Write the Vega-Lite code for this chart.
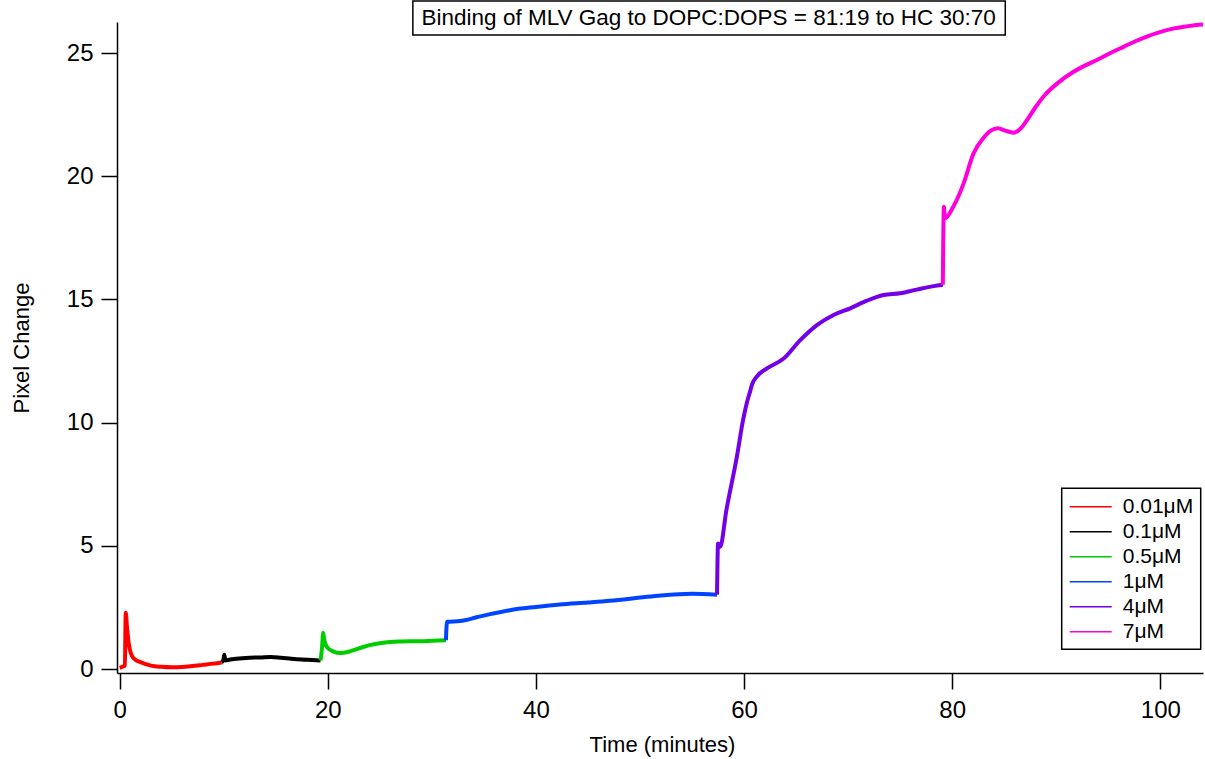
{
  "$schema": "https://vega.github.io/schema/vega-lite/v6.json",
  "width": 1086,
  "height": 651,
  "autosize": {"type": "none"},
  "padding": {"left": 117, "top": 22, "right": 2, "bottom": 86},
  "background": "white",
  "config": {
    "view": {"stroke": null},
    "font": "Liberation Sans",
    "legend": {"strokeWidth": 1.5}
  },
  "layer": [
    {
      "data": {
        "values": [
          {"t": 0, "v": 0.05, "c": "0.01μM"},
          {"t": 0.3, "v": 0.1, "c": "0.01μM"},
          {"t": 0.5, "v": 0.15, "c": "0.01μM"},
          {"t": 0.58, "v": 2.29, "c": "0.01μM"},
          {"t": 0.7, "v": 1.7, "c": "0.01μM"},
          {"t": 0.85, "v": 1.1, "c": "0.01μM"},
          {"t": 1.0, "v": 0.75, "c": "0.01μM"},
          {"t": 1.2, "v": 0.52, "c": "0.01μM"},
          {"t": 1.5, "v": 0.38, "c": "0.01μM"},
          {"t": 2.0, "v": 0.28, "c": "0.01μM"},
          {"t": 2.5, "v": 0.2, "c": "0.01μM"},
          {"t": 3.0, "v": 0.14, "c": "0.01μM"},
          {"t": 4.0, "v": 0.09, "c": "0.01μM"},
          {"t": 5.0, "v": 0.07, "c": "0.01μM"},
          {"t": 6.0, "v": 0.08, "c": "0.01μM"},
          {"t": 7.0, "v": 0.12, "c": "0.01μM"},
          {"t": 8.0, "v": 0.17, "c": "0.01μM"},
          {"t": 9.0, "v": 0.22, "c": "0.01μM"},
          {"t": 9.8, "v": 0.27, "c": "0.01μM"},
          {"t": 9.8, "v": 0.28, "c": "0.1μM"},
          {"t": 9.95, "v": 0.35, "c": "0.1μM"},
          {"t": 10.05, "v": 0.58, "c": "0.1μM"},
          {"t": 10.15, "v": 0.35, "c": "0.1μM"},
          {"t": 10.5, "v": 0.38, "c": "0.1μM"},
          {"t": 11.2, "v": 0.42, "c": "0.1μM"},
          {"t": 12.5, "v": 0.46, "c": "0.1μM"},
          {"t": 13.5, "v": 0.47, "c": "0.1μM"},
          {"t": 14.5, "v": 0.49, "c": "0.1μM"},
          {"t": 15.5, "v": 0.46, "c": "0.1μM"},
          {"t": 16.5, "v": 0.42, "c": "0.1μM"},
          {"t": 17.5, "v": 0.39, "c": "0.1μM"},
          {"t": 18.5, "v": 0.37, "c": "0.1μM"},
          {"t": 19.3, "v": 0.35, "c": "0.1μM"},
          {"t": 19.3, "v": 0.35, "c": "0.5μM"},
          {"t": 19.45, "v": 0.9, "c": "0.5μM"},
          {"t": 19.55, "v": 1.47, "c": "0.5μM"},
          {"t": 19.7, "v": 1.1, "c": "0.5μM"},
          {"t": 20.0, "v": 0.85, "c": "0.5μM"},
          {"t": 20.5, "v": 0.72, "c": "0.5μM"},
          {"t": 21.2, "v": 0.65, "c": "0.5μM"},
          {"t": 22.0, "v": 0.7, "c": "0.5μM"},
          {"t": 23.0, "v": 0.84, "c": "0.5μM"},
          {"t": 24.0, "v": 0.97, "c": "0.5μM"},
          {"t": 25.0, "v": 1.05, "c": "0.5μM"},
          {"t": 26.0, "v": 1.1, "c": "0.5μM"},
          {"t": 27.0, "v": 1.12, "c": "0.5μM"},
          {"t": 28.0, "v": 1.13, "c": "0.5μM"},
          {"t": 29.0, "v": 1.13, "c": "0.5μM"},
          {"t": 30.0, "v": 1.15, "c": "0.5μM"},
          {"t": 31.35, "v": 1.17, "c": "0.5μM"},
          {"t": 31.35, "v": 1.17, "c": "1μM"},
          {"t": 31.45, "v": 1.92, "c": "1μM"},
          {"t": 32.7, "v": 1.95, "c": "1μM"},
          {"t": 34.3, "v": 2.1, "c": "1μM"},
          {"t": 35.6, "v": 2.23, "c": "1μM"},
          {"t": 37.5, "v": 2.39, "c": "1μM"},
          {"t": 40.0, "v": 2.52, "c": "1μM"},
          {"t": 42.3, "v": 2.62, "c": "1μM"},
          {"t": 45.0, "v": 2.7, "c": "1μM"},
          {"t": 47.1, "v": 2.77, "c": "1μM"},
          {"t": 50.0, "v": 2.9, "c": "1μM"},
          {"t": 52.0, "v": 2.99, "c": "1μM"},
          {"t": 55.0, "v": 3.06, "c": "1μM"},
          {"t": 57.4, "v": 3.02, "c": "1μM"},
          {"t": 57.4, "v": 3.02, "c": "4μM"},
          {"t": 57.5, "v": 5.1, "c": "4μM"},
          {"t": 57.7, "v": 4.96, "c": "4μM"},
          {"t": 58.3, "v": 6.45, "c": "4μM"},
          {"t": 59.3, "v": 8.6, "c": "4μM"},
          {"t": 59.9, "v": 10.1, "c": "4μM"},
          {"t": 60.25, "v": 10.78, "c": "4μM"},
          {"t": 60.6, "v": 11.3, "c": "4μM"},
          {"t": 60.75, "v": 11.53, "c": "4μM"},
          {"t": 61.2, "v": 11.86, "c": "4μM"},
          {"t": 62.2, "v": 12.2, "c": "4μM"},
          {"t": 63.8, "v": 12.6, "c": "4μM"},
          {"t": 65.4, "v": 13.35, "c": "4μM"},
          {"t": 67.0, "v": 13.96, "c": "4μM"},
          {"t": 68.6, "v": 14.37, "c": "4μM"},
          {"t": 70.2, "v": 14.64, "c": "4μM"},
          {"t": 71.8, "v": 14.95, "c": "4μM"},
          {"t": 73.4, "v": 15.18, "c": "4μM"},
          {"t": 75.0, "v": 15.25, "c": "4μM"},
          {"t": 76.6, "v": 15.4, "c": "4μM"},
          {"t": 78.2, "v": 15.54, "c": "4μM"},
          {"t": 79.1, "v": 15.6, "c": "4μM"},
          {"t": 79.1, "v": 15.6, "c": "7μM"},
          {"t": 79.2, "v": 18.76, "c": "7μM"},
          {"t": 79.3, "v": 18.29, "c": "7μM"},
          {"t": 80.1, "v": 18.76, "c": "7μM"},
          {"t": 81.1, "v": 19.71, "c": "7μM"},
          {"t": 82.05, "v": 20.93, "c": "7μM"},
          {"t": 83.0, "v": 21.55, "c": "7μM"},
          {"t": 83.7, "v": 21.85, "c": "7μM"},
          {"t": 84.4, "v": 21.95, "c": "7μM"},
          {"t": 85.1, "v": 21.85, "c": "7μM"},
          {"t": 85.9, "v": 21.77, "c": "7μM"},
          {"t": 86.6, "v": 21.95, "c": "7μM"},
          {"t": 87.3, "v": 22.35, "c": "7μM"},
          {"t": 88.0, "v": 22.8, "c": "7μM"},
          {"t": 88.8, "v": 23.25, "c": "7μM"},
          {"t": 90.1, "v": 23.77, "c": "7μM"},
          {"t": 91.7, "v": 24.25, "c": "7μM"},
          {"t": 92.8, "v": 24.5, "c": "7μM"},
          {"t": 93.9, "v": 24.72, "c": "7μM"},
          {"t": 95.2, "v": 25.0, "c": "7μM"},
          {"t": 96.5, "v": 25.26, "c": "7μM"},
          {"t": 97.6, "v": 25.48, "c": "7μM"},
          {"t": 98.7, "v": 25.67, "c": "7μM"},
          {"t": 99.8, "v": 25.83, "c": "7μM"},
          {"t": 101.0, "v": 25.97, "c": "7μM"},
          {"t": 102.3, "v": 26.07, "c": "7μM"},
          {"t": 103.5, "v": 26.14, "c": "7μM"},
          {"t": 104.1, "v": 26.16, "c": "7μM"}
        ]
      },
      "mark": {"type": "line", "strokeWidth": 4, "interpolate": "monotone", "clip": false},
      "encoding": {
        "x": {
          "field": "t",
          "type": "quantitative",
          "scale": {"domain": [-0.26, 104.1], "nice": false, "zero": false},
          "axis": {
            "title": "Time (minutes)",
            "values": [0, 20, 40, 60, 80, 100],
            "grid": false,
            "domainColor": "black",
            "domainWidth": 1.5,
            "tickColor": "black",
            "tickWidth": 1.5,
            "tickSize": 16,
            "labelFont": "Liberation Sans",
            "labelFontSize": 24,
            "labelColor": "black",
            "labelPadding": 9,
            "labelFlush": false,
            "labelOverlap": false,
            "titleFont": "Liberation Sans",
            "titleFontSize": 22,
            "titleFontWeight": "normal",
            "titleColor": "black",
            "titleBaseline": "alphabetic",
            "titleX": 545,
            "titleY": 78
          }
        },
        "y": {
          "field": "v",
          "type": "quantitative",
          "scale": {"domain": [-0.16, 26.26], "nice": false, "zero": false},
          "axis": {
            "title": "Pixel Change",
            "values": [0, 5, 10, 15, 20, 25],
            "grid": false,
            "domainColor": "black",
            "domainWidth": 1.5,
            "tickColor": "black",
            "tickWidth": 1.5,
            "tickSize": 16,
            "labelFont": "Liberation Sans",
            "labelFontSize": 24,
            "labelColor": "black",
            "labelPadding": 8,
            "labelFlush": false,
            "labelOverlap": false,
            "titleFont": "Liberation Sans",
            "titleFontSize": 22,
            "titleFontWeight": "normal",
            "titleColor": "black",
            "titleBaseline": "alphabetic",
            "titleX": -89,
            "titleY": 325.5
          }
        },
        "color": {
          "field": "c",
          "type": "nominal",
          "scale": {
            "domain": ["0.01μM", "0.1μM", "0.5μM", "1μM", "4μM", "7μM"],
            "range": ["#ff0000", "#000000", "#00cc00", "#0044ff", "#7300e6", "#ff00dc"]
          },
          "legend": {
            "orient": "none",
            "legendX": 944.7,
            "legendY": 466.3,
            "title": null,
            "strokeColor": "black",
            "fillColor": "white",
            "padding": 7,
            "labelFont": "Liberation Sans",
            "labelFontSize": 21,
            "labelColor": "black",
            "symbolType": "M-1,0H3",
            "symbolSize": 441,
            "symbolStrokeWidth": 1.5,
            "labelOffset": 31,
            "rowPadding": 3
          }
        }
      }
    },
    {
      "data": {"values": [{"x1": 28.17, "x2": 85.1, "y1": 25.73, "y2": 27.11}]},
      "mark": {"type": "rect", "fill": "white", "stroke": "black", "strokeWidth": 1.5, "clip": false},
      "encoding": {
        "x": {"field": "x1", "type": "quantitative", "scale": {"domain": [-0.26, 104.1], "nice": false, "zero": false}},
        "x2": {"field": "x2"},
        "y": {"field": "y1", "type": "quantitative", "scale": {"domain": [-0.16, 26.26], "nice": false, "zero": false}},
        "y2": {"field": "y2"}
      }
    },
    {
      "data": {"values": [{"x": 56.6, "y": 26.42, "label": "Binding of MLV Gag to DOPC:DOPS = 81:19 to HC 30:70"}]},
      "mark": {"type": "text", "fontSize": 22.5, "font": "Liberation Sans", "color": "black", "align": "center", "baseline": "middle", "clip": false},
      "encoding": {
        "x": {"field": "x", "type": "quantitative", "scale": {"domain": [-0.26, 104.1], "nice": false, "zero": false}},
        "y": {"field": "y", "type": "quantitative", "scale": {"domain": [-0.16, 26.26], "nice": false, "zero": false}},
        "text": {"field": "label"}
      }
    }
  ]
}
